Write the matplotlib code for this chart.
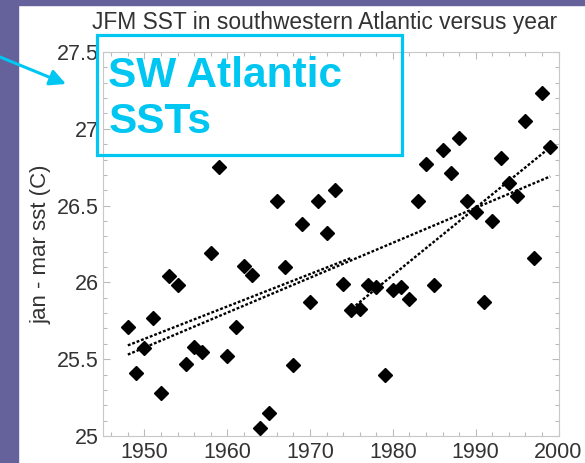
import matplotlib
matplotlib.use("Agg")
from matplotlib import pyplot as plt
from matplotlib.patches import Rectangle
from matplotlib.ticker import MultipleLocator
import numpy as np

plt.rcParams["font.family"] = ["Liberation Sans", "DejaVu Sans"]

# JFM mean sea surface temperature, southwestern Atlantic
years = np.arange(1948, 2000)
sst = [25.71, 25.41, 25.57, 25.77, 25.28, 26.04, 25.98, 25.47, 25.58, 25.55,
       26.19, 26.75, 25.52, 25.71, 26.11, 26.05, 25.05, 25.15, 26.53, 26.10,
       25.46, 26.38, 25.87, 26.53, 26.32, 26.60, 25.99, 25.82, 25.83, 25.98,
       25.97, 25.40, 25.95, 25.97, 25.89, 26.53, 26.77, 25.98, 26.86, 26.71,
       26.94, 26.53, 26.46, 25.87, 26.40, 26.81, 26.65, 26.56, 27.05, 26.16,
       27.23, 26.88]

# trend lines (start/end year and value)
trend_all_x = [1948, 1999]
trend_all_y = [25.53, 26.69]
trend_early_x = [1948, 1975]
trend_early_y = [25.59, 26.16]
trend_late_x = [1975.5, 1999]
trend_late_y = [25.85, 26.88]

title = "JFM SST in southwestern Atlantic versus year"
ylabel = "jan - mar sst (C)"
note = ["SW Atlantic", "SSTs"]

cyan = "#00c6f2"
purple = "#64619b"
W, H = 585, 463

fig = plt.figure(figsize=(W / 100, H / 100), dpi=100)
fig.patch.set_facecolor("white")
# slide border strips
fig.patches.append(Rectangle((0, 0), 18 / W, 1, transform=fig.transFigure,
                             color=purple, zorder=0))
fig.patches.append(Rectangle((0, 1 - 5 / H), 1, 5 / H, transform=fig.transFigure,
                             color=purple, zorder=0))

ax = fig.add_axes([103 / W, 27 / H, 455.5 / W, 384 / H])
ax.plot(years, sst, "D", color="black", ms=6.7, zorder=3)
for tx, ty in [(trend_all_x, trend_all_y), (trend_early_x, trend_early_y),
               (trend_late_x, trend_late_y)]:
    ax.plot(tx, ty, color="black", ls=(0, (1.2, 0.8)), lw=1.7, zorder=2)

ax.set_xlim(1945, 2000)
ax.set_ylim(25, 27.5)
ax.xaxis.set_major_locator(MultipleLocator(10))
ax.xaxis.set_minor_locator(MultipleLocator(2))
ax.yaxis.set_major_locator(MultipleLocator(0.5))
ax.yaxis.set_minor_locator(MultipleLocator(0.1))
ax.set_yticks([25, 25.5, 26, 26.5, 27, 27.5], ["25", "25.5", "26", "26.5", "27", "27.5"])

for s in ax.spines.values():
    s.set_color("#c8c8c8")
    s.set_linewidth(0.8)
ax.tick_params(which="both", direction="in", top=True, right=True,
               color="#bbbbbb", labelcolor="#333333", labelsize=15.5)
ax.tick_params(which="major", length=5, width=0.8)
ax.tick_params(which="minor", length=3, width=0.8)
ax.tick_params(axis="y", pad=3)
ax.tick_params(axis="x", pad=4)

ax.set_ylabel(ylabel, fontsize=16, color="#333333")
ax.yaxis.set_label_coords(-0.114, 0.5)

fig.text(324.5 / W, 1 - 29 / H, title, ha="center", va="baseline",
         fontsize=16.4, color="#333333")

# callout box and arrow
fig.add_artist(Rectangle((97 / W, 1 - 155 / H), 305 / W, 120 / H,
                         transform=fig.transFigure, fill=False,
                         edgecolor=cyan, lw=2.3, zorder=5))
fig.text(108.5 / W, 1 - 87 / H, note[0], ha="left", va="baseline",
         fontsize=30.5, fontweight="bold", color=cyan, zorder=6)
fig.text(108.5 / W, 1 - 133 / H, note[1], ha="left", va="baseline",
         fontsize=30.5, fontweight="bold", color=cyan, zorder=6)
fig.add_artist(plt.Annotation("", xy=(66 / W, 1 - 84 / H), xytext=(0, 1 - 57 / H),
                              xycoords="figure fraction", textcoords="figure fraction",
                              arrowprops=dict(arrowstyle="-|>", color=cyan, lw=2.2,
                                              mutation_scale=24, shrinkA=0, shrinkB=0),
                              zorder=6))

fig.savefig("out.png", dpi=100)
